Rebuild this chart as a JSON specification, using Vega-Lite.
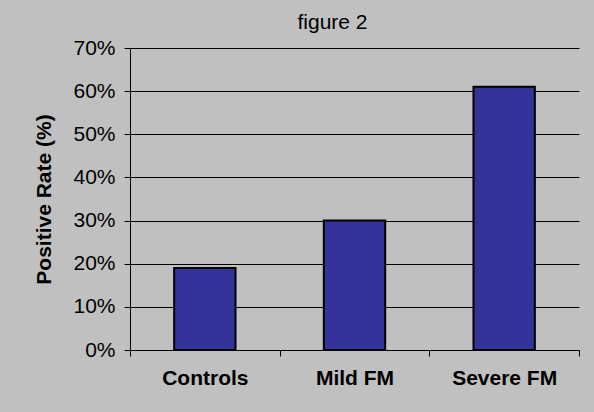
{
  "$schema": "https://vega.github.io/schema/vega-lite/v6.json",
  "width": 449,
  "height": 302,
  "autosize": {"type": "none"},
  "padding": {"left": 130, "top": 48, "right": 15, "bottom": 62},
  "background": "#C0C0C0",
  "title": {
    "text": "figure 2",
    "font": "Liberation Sans",
    "fontSize": 21,
    "fontWeight": "normal",
    "color": "#000000",
    "anchor": "middle",
    "frame": "group",
    "baseline": "alphabetic",
    "offset": 15,
    "dx": -22,
    "dy": 28
  },
  "data": {
    "values": [
      {"group": "Controls", "rate": 0.19},
      {"group": "Mild FM", "rate": 0.30},
      {"group": "Severe FM", "rate": 0.61}
    ]
  },
  "mark": {"type": "bar", "fill": "#333399", "stroke": "#000000", "strokeWidth": 2, "width": {"band": 0.41}},
  "encoding": {
    "x": {
      "field": "group",
      "type": "nominal",
      "sort": null,
      "scale": {"paddingInner": 0, "paddingOuter": 0},
      "axis": {
        "title": null,
        "labelAngle": 0,
        "labelFont": "Liberation Sans",
        "labelFontSize": 21,
        "labelFontWeight": "bold",
        "labelColor": "#000000",
        "labelPadding": 11,
        "tickBand": "extent",
        "tickSize": 6,
        "tickColor": "#000000",
        "domainColor": "#000000",
        "grid": false
      }
    },
    "y": {
      "field": "rate",
      "type": "quantitative",
      "scale": {"domain": [0, 0.7], "nice": false},
      "axis": {
        "title": "Positive Rate (%)",
        "titleFont": "Liberation Sans",
        "titleFontSize": 21,
        "titleFontWeight": "bold",
        "titleColor": "#000000",
        "titlePadding": 18,
        "values": [0, 0.1, 0.2, 0.3, 0.4, 0.5, 0.6, 0.7],
        "format": ".0%",
        "labelFont": "Liberation Sans",
        "labelFontSize": 21,
        "labelColor": "#000000",
        "labelPadding": 9,
        "tickSize": 6,
        "tickColor": "#000000",
        "domainColor": "#000000",
        "grid": true,
        "gridColor": "#000000",
        "gridOpacity": 1
      }
    }
  },
  "config": {"view": {"stroke": null}}
}
